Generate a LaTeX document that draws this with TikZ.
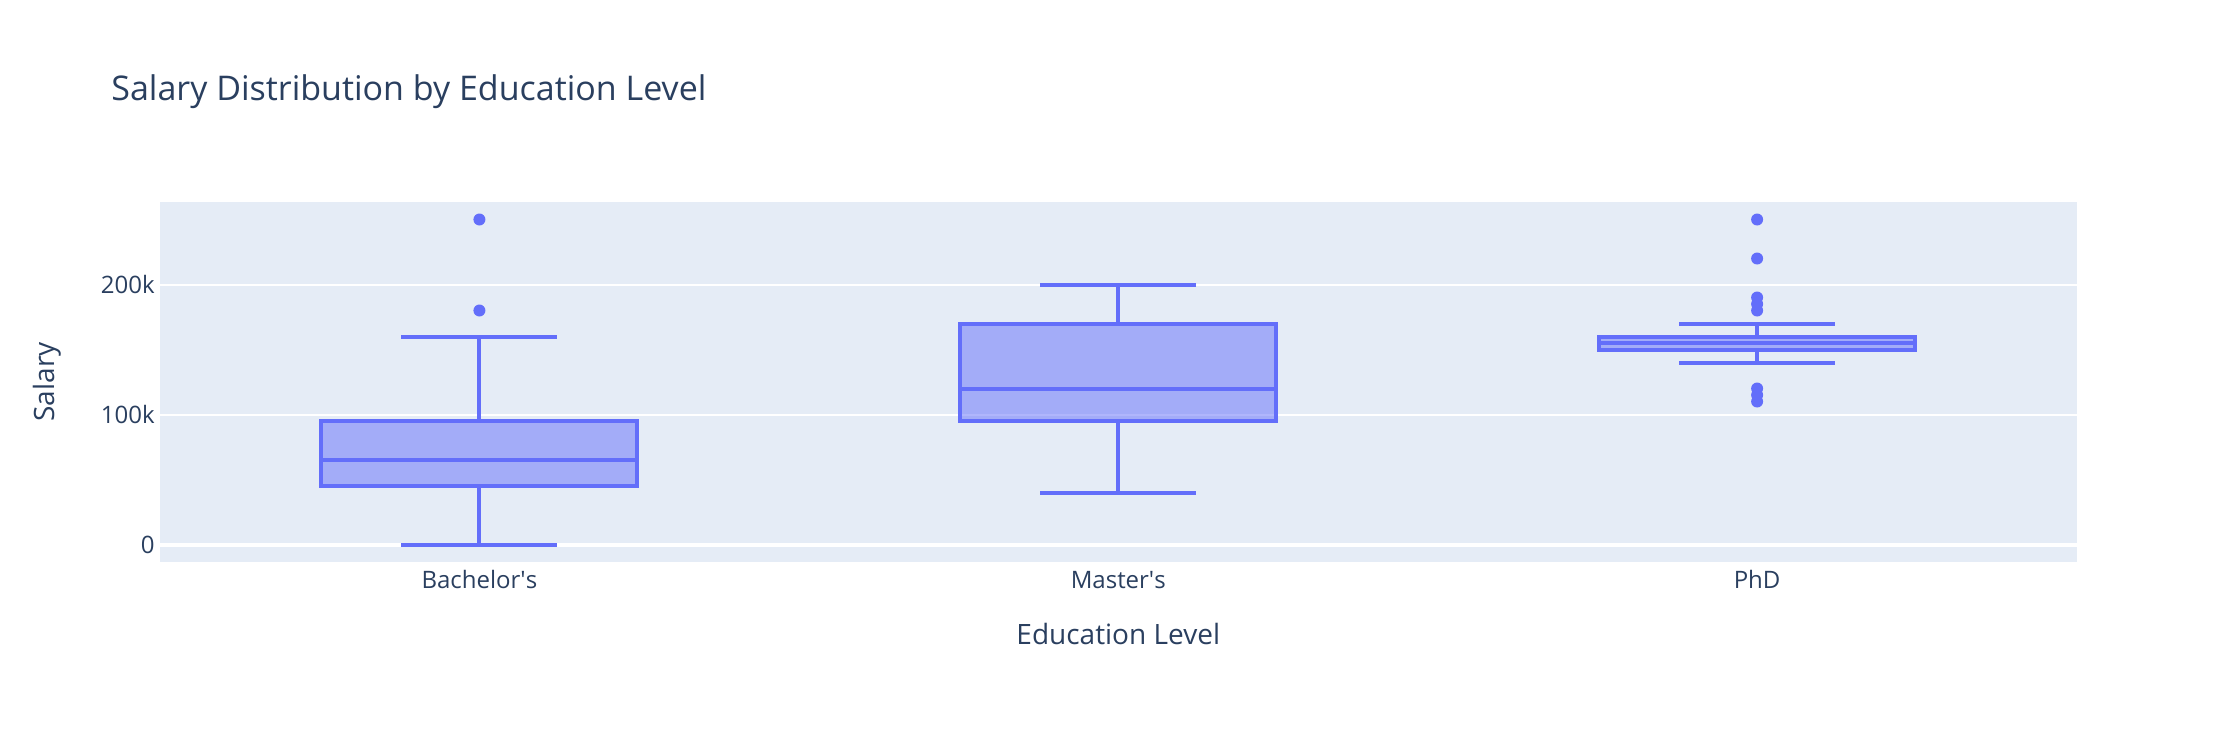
\documentclass[tikz,border=0pt]{standalone}
\usepackage{fontspec}
\setmainfont{Open Sans}
\definecolor{txt}{HTML}{2A3F5F}
\definecolor{plotbg}{HTML}{E5ECF6}
\definecolor{bx}{HTML}{636EFA}
\tikzset{
  boxst/.style={draw=bx, line width=2pt, fill=bx, fill opacity=0.5, draw opacity=1},
  whisk/.style={draw=bx, line width=2pt},
  outl/.style={fill=bx, draw=none},
  gridl/.style={draw=white, line width=1pt},
  zerol/.style={draw=white, line width=2pt},
  ticklab/.style={text=txt, font=\fontsize{12}{14}\selectfont, inner sep=0pt},
  axtitle/.style={text=txt, font=\fontsize{14}{17}\selectfont, inner sep=0pt},
  maintitle/.style={text=txt, font=\fontsize{17}{20}\selectfont, inner sep=0pt}
}
\newcommand\bplot[6]{% #1 centre x, #2 low, #3 q1, #4 median, #5 q3, #6 high
  \filldraw[boxst] (#1-158,#3) rectangle (#1+158,#5);
  \draw[whisk] (#1-158,#4) -- (#1+158,#4);
  \draw[whisk] (#1,#5) -- (#1,#6) (#1-78,#6) -- (#1+78,#6);
  \draw[whisk] (#1,#3) -- (#1,#2) (#1-78,#2) -- (#1+78,#2);
}
\newcommand\outpt[2]{\fill[outl] (#1,#2) circle (3pt);}
\begin{document}
\begin{tikzpicture}[x=0.5pt, y=-0.5pt]
  \useasboundingbox (0,0) rectangle (2236,730);
  \fill[white] (0,0) rectangle (2236,730);
  % plot area
  \fill[plotbg] (160,202) rectangle (2076.5,561.5);
  \node[maintitle, anchor=base west] (title) at (111,100) {Salary Distribution by Education Level};
  \node[axtitle, anchor=base] (xtitle) at (1118.25,644) {Education Level};
  \node[axtitle, rotate=90] (ytitle) at (47,382) {Salary};
  \node[ticklab, anchor=base] (xb) at (479.4,588) {Bachelor\textquotesingle s};
  \node[ticklab, anchor=base] (xm) at (1118.25,588) {Master\textquotesingle s};
  \node[ticklab, anchor=base] (xp) at (1757.1,588) {PhD};
  \begin{scope}[shift={(0,544.5)}, y={(0,0.65pt)}]
    \draw[gridl] (160,100) -- (2076.5,100);
    \draw[gridl] (160,200) -- (2076.5,200);
    \draw[zerol] (160,0) -- (2076.5,0);
    \node[ticklab, anchor=east] (t0) at (155,0) {0};
    \node[ticklab, anchor=east] (t100) at (155,100) {100k};
    \node[ticklab, anchor=east] (t200) at (155,200) {200k};
    \bplot{479.4}{0}{45}{65}{95}{160}
    \bplot{1118.25}{40}{95}{120}{170}{200}
    \bplot{1757.1}{140}{150}{155}{160}{170}
    \outpt{479.4}{250}
    \outpt{479.4}{180}
    \outpt{1757.1}{250}
    \outpt{1757.1}{220}
    \outpt{1757.1}{190}
    \outpt{1757.1}{185}
    \outpt{1757.1}{180}
    \outpt{1757.1}{120}
    \outpt{1757.1}{115}
    \outpt{1757.1}{110}
  \end{scope}
\end{tikzpicture}
\end{document}
